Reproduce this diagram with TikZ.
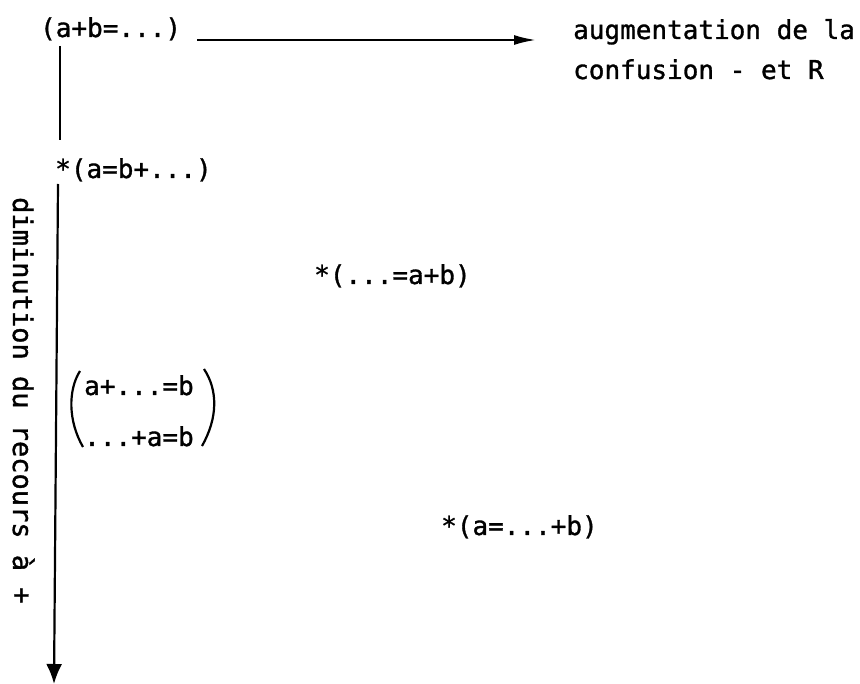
\documentclass[tikz,border=0pt]{standalone}
\usepackage{fontspec}
\newfontfamily\twfont[FakeBold=1.2]{DejaVu Sans Mono}
\usetikzlibrary{arrows.meta}
\begin{document}
\begin{tikzpicture}[x=1pt,y=-1pt,
  lbl/.style={font=\twfont\fontsize{26}{30}\selectfont, inner sep=0pt, anchor=base west},
  conn/.style={line width=2.2pt},
  tip/.style={-{Latex[length=22pt,width=10pt]}},
  bigtip/.style={-{Latex[length=20pt,width=16pt]}}]
\useasboundingbox (0,0) rectangle (860,684);
\node[lbl] (A) at (40,37) {(a+b=...)};
\node[lbl] (B1) at (573,39) {augmentation de la};
\node[lbl] (B2) at (573,79) {confusion - et R};
\node[lbl] (C) at (55,178) {*(a=b+...)};
\node[lbl] (E) at (314,284) {*(...=a+b)};
\node[lbl] (G1) at (84,395) {a+...=b};
\node[lbl] (G2) at (84,446) {...+a=b};
\node[lbl] (F) at (441,535) {*(a=...+b)};
\node[lbl, font=\twfont\fontsize{27}{30}\selectfont, rotate=-90] (D) at (13,197) {diminution du recours à +};
\coordinate (bottom) at (54,684);
% connectors
\draw[conn,tip] ([shift={(16,3)}]A.base east) -- ([shift={(-37,1)}]B1.base west);
\draw[conn] ([shift={(20,9)}]A.base west) -- ([shift={(5,-38)}]C.base west);
\draw[conn,bigtip] ([shift={(3,6)}]C.base west) -- (bottom);
% parentheses round the pair
\draw[conn] ([shift={(-4,-24)}]G1.base west) .. controls ([shift={(-16,-5)}]G1.base west) and ([shift={(-16,-25)}]G2.base west) .. ([shift={(-1,1)}]G2.base west);
\draw[conn] ([shift={(10,-26)}]G1.base east) .. controls ([shift={(24,-5)}]G1.base east) and ([shift={(24,-28)}]G2.base east) .. ([shift={(8,0)}]G2.base east);
\end{tikzpicture}
\end{document}
